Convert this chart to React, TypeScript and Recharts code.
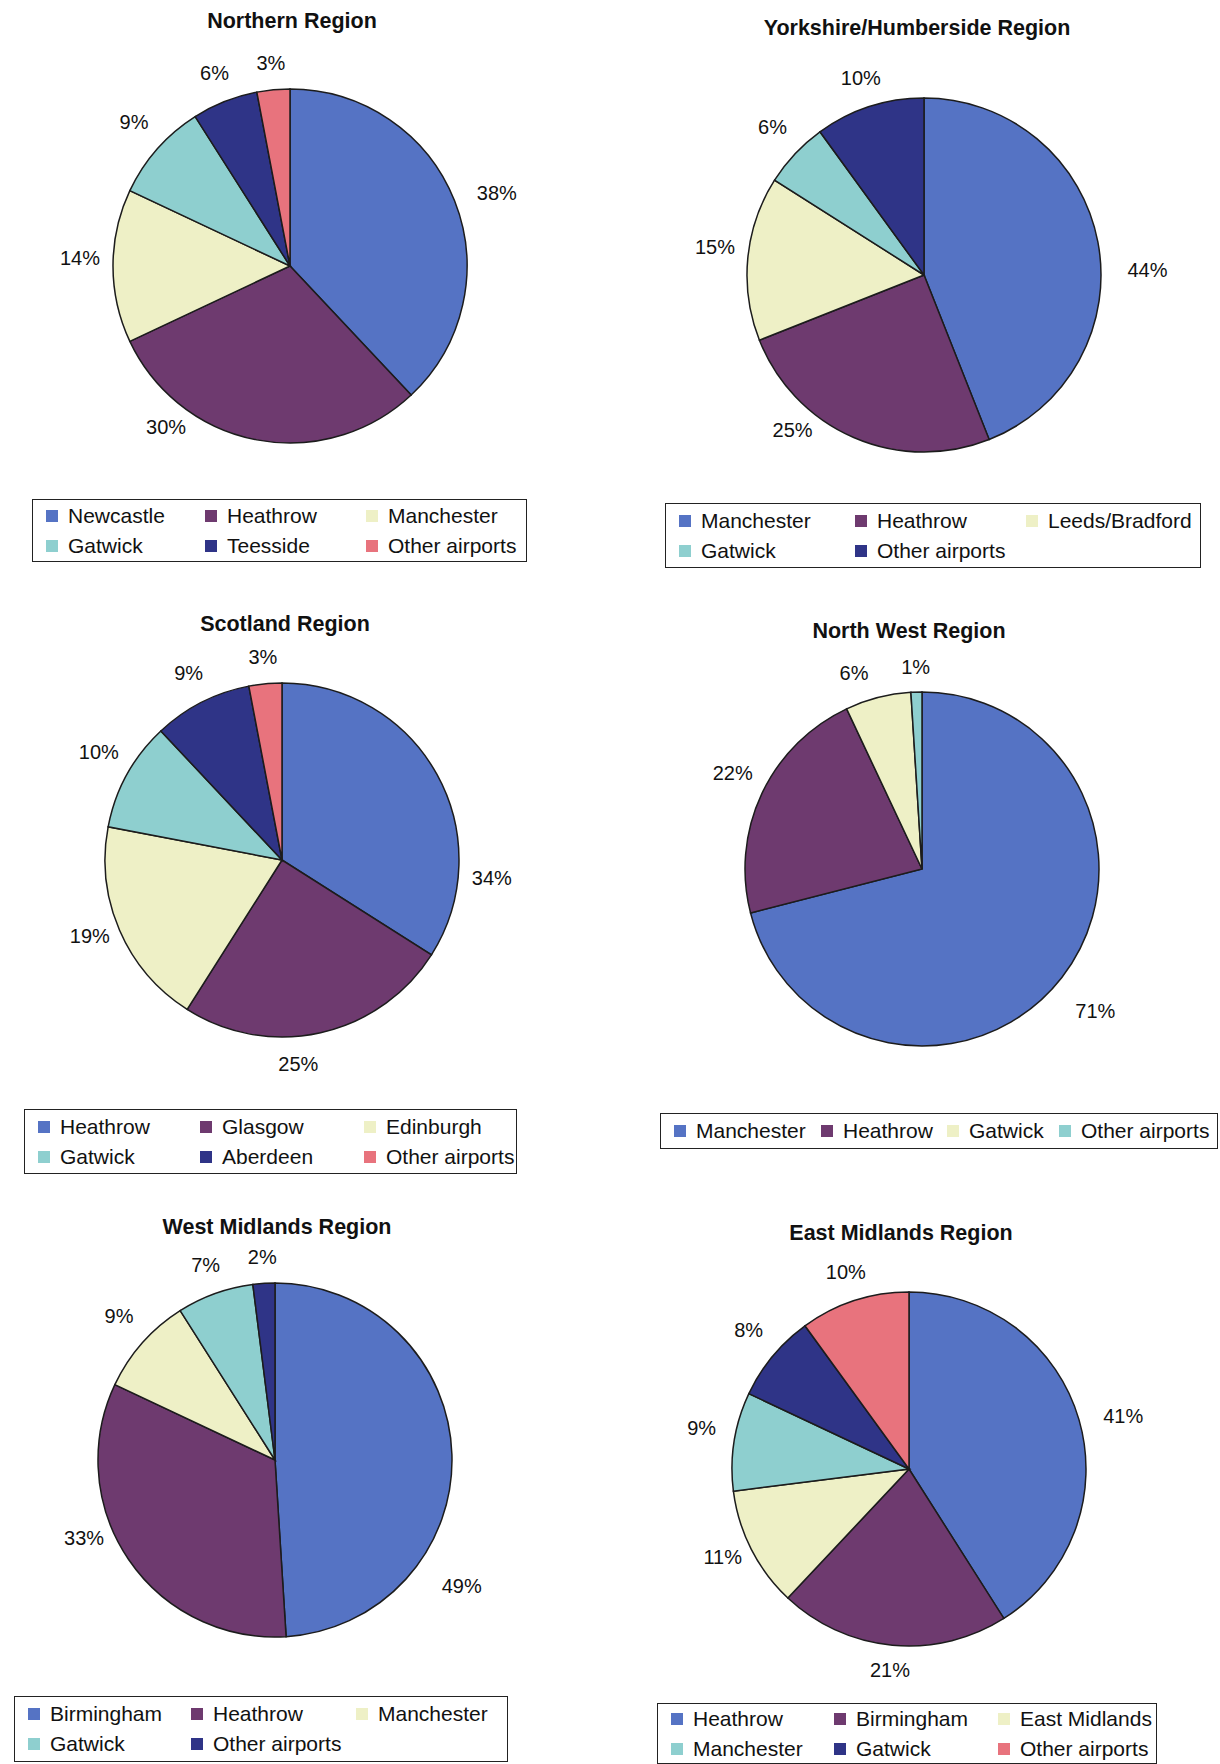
import React from 'react';
import { PieChart, Pie, Cell } from 'recharts';

// slice colours
const BLUE = '#5573c4';
const PURPLE = '#6e3a6f';
const CREAM = '#eef0c6';
const TEAL = '#8ecfcf';
const NAVY = '#2f3487';
const PINK = '#e8737d';

// data (percent of passengers per airport)
const northernAirports = ['Newcastle', 'Heathrow', 'Manchester', 'Gatwick', 'Teesside', 'Other airports'];
const northernShares = [38, 30, 14, 9, 6, 3];

const yorkshireAirports = ['Manchester', 'Heathrow', 'Leeds/Bradford', 'Gatwick', 'Other airports'];
const yorkshireShares = [44, 25, 15, 6, 10];

const scotlandAirports = ['Heathrow', 'Glasgow', 'Edinburgh', 'Gatwick', 'Aberdeen', 'Other airports'];
const scotlandShares = [34, 25, 19, 10, 9, 3];

const northWestAirports = ['Manchester', 'Heathrow', 'Gatwick', 'Other airports'];
const northWestShares = [71, 22, 6, 1];

const westMidlandsAirports = ['Birmingham', 'Heathrow', 'Manchester', 'Gatwick', 'Other airports'];
const westMidlandsShares = [49, 33, 9, 7, 2];

const eastMidlandsAirports = ['Heathrow', 'Birmingham', 'East Midlands', 'Manchester', 'Gatwick', 'Other airports'];
const eastMidlandsShares = [41, 21, 11, 9, 8, 10];

const FONT = 'Arial, "Liberation Sans", Helvetica, sans-serif';
const RADIUS = 177;
const RAD = Math.PI / 180;

type Panel = {
  title: string;
  names: string[];
  values: number[];
  colors: string[];
  x: number;
  y: number;
  cx: number;
  cy: number;
  titleX: number;
  titleY: number;
  legend: { left: number; top: number; width: number; height: number; cols: number[] };
  nudge?: Record<number, number>;
  pull?: Record<number, number>;
};

const panels: Panel[] = [
  {
    title: 'Northern Region', names: northernAirports, values: northernShares,
    colors: [BLUE, PURPLE, CREAM, TEAL, NAVY, PINK],
    x: 0, y: 0, cx: 290, cy: 266, titleX: 292, titleY: 22,
    legend: { left: 32, top: 499, width: 495, height: 63, cols: [159, 161, 160] },
    nudge: { 1: -26 },
  },
  {
    title: 'Yorkshire/Humberside Region', names: yorkshireAirports, values: yorkshireShares,
    colors: [BLUE, PURPLE, CREAM, TEAL, NAVY],
    x: 610, y: 0, cx: 314, cy: 275, titleX: 307, titleY: 29,
    legend: { left: 55, top: 503, width: 536, height: 65, cols: [176, 171, 170] },
    nudge: { 0: -7, 1: -16 },
  },
  {
    title: 'Scotland Region', names: scotlandAirports, values: scotlandShares,
    colors: [BLUE, PURPLE, CREAM, TEAL, NAVY, PINK],
    x: 0, y: 588, cx: 282, cy: 272, titleX: 285, titleY: 37,
    legend: { left: 24, top: 521, width: 493, height: 65, cols: [162, 164, 160] },
    nudge: { 0: -31, 1: -8 },
    pull: { 0: -14 },
  },
  {
    title: 'North West Region', names: northWestAirports, values: northWestShares,
    colors: [BLUE, PURPLE, CREAM, TEAL],
    x: 610, y: 588, cx: 312, cy: 281, titleX: 299, titleY: 44,
    legend: { left: 50, top: 525, width: 558, height: 36, cols: [147, 126, 112, 160] },
    nudge: { 2: 5 },
  },
  {
    title: 'West Midlands Region', names: westMidlandsAirports, values: westMidlandsShares,
    colors: [BLUE, PURPLE, CREAM, TEAL, NAVY],
    x: 0, y: 1176, cx: 275, cy: 284, titleX: 277, titleY: 52,
    legend: { left: 14, top: 520, width: 494, height: 66, cols: [163, 165, 160] },
    nudge: { 0: -34, 1: -10 },
  },
  {
    title: 'East Midlands Region', names: eastMidlandsAirports, values: eastMidlandsShares,
    colors: [BLUE, PURPLE, CREAM, TEAL, NAVY, PINK],
    x: 610, y: 1176, cx: 299, cy: 293, titleX: 291, titleY: 58,
    legend: { left: 47, top: 527, width: 500, height: 61, cols: [163, 164, 165] },
  },
];

function makeLabel(nudge?: Record<number, number>, pull?: Record<number, number>) {
  return (props: any) => {
    const { cx, cy, midAngle, outerRadius, value, index } = props;
    const angle = midAngle + (nudge && nudge[index] ? nudge[index] : 0);
    const c = Math.cos(angle * RAD);
    const r = outerRadius + 25 + 8 * Math.abs(c) + 14 * Math.max(0, c) + (pull && pull[index] ? pull[index] : 0);
    const x = cx + r * c;
    const y = cy - r * Math.sin(angle * RAD) + (c > 0 ? 10 * c : 8 * c);
    return (
      <text x={x} y={y} textAnchor="middle" dominantBaseline="central"
        fontFamily={FONT} fontSize={20} fill="#111">
        {`${value}%`}
      </text>
    );
  };
}

function PiePanel({ p }: { p: Panel }) {
  const data = p.names.map((n, i) => ({ name: n, value: p.values[i] }));
  const lg = p.legend;
  return (
    <div style={{ position: 'absolute', left: p.x, top: p.y, width: 610, height: 588 }}>
      <div style={{
        position: 'absolute', left: p.titleX - 250, top: p.titleY - 13, width: 500,
        textAlign: 'center', fontFamily: FONT, fontWeight: 'bold', fontSize: 21.5, color: '#111',
      }}>{p.title}</div>
      <div style={{ position: 'absolute', left: 0, top: 0 }}>
        <PieChart width={610} height={588} margin={{ top: 0, right: 0, bottom: 0, left: 0 }}>
          <Pie data={data} dataKey="value" nameKey="name" cx={p.cx} cy={p.cy}
            outerRadius={RADIUS} startAngle={90} endAngle={-270}
            stroke="#1c1c1c" strokeWidth={1.5} isAnimationActive={false}
            label={makeLabel(p.nudge, p.pull)} labelLine={false}>
            {data.map((d, i) => <Cell key={d.name} fill={p.colors[i]} />)}
          </Pie>
        </PieChart>
      </div>
      <div style={{
        position: 'absolute', left: lg.left, top: lg.top, width: lg.width, height: lg.height,
        boxSizing: 'border-box', border: '1.5px solid #222', background: '#fff',
        display: 'grid', gridTemplateColumns: lg.cols.map(c => c + 'px').join(' '),
        alignContent: 'center', paddingLeft: 13, rowGap: 2,
      }}>
        {data.map((d, i) => (
          <div key={d.name} style={{ display: 'flex', alignItems: 'center', height: 28,
            fontFamily: FONT, fontSize: 21, color: '#111', whiteSpace: 'nowrap' }}>
            <span style={{ width: 12, height: 12, background: p.colors[i], marginRight: 10,
              display: 'inline-block', flex: 'none' }} />
            {d.name}
          </div>
        ))}
      </div>
    </div>
  );
}

export default function App() {
  return (
    <div style={{ position: 'absolute', left: 0, top: 0, width: 1220, height: 1764, background: '#fff' }}>
      {panels.map(p => <PiePanel key={p.title} p={p} />)}
    </div>
  );
}
